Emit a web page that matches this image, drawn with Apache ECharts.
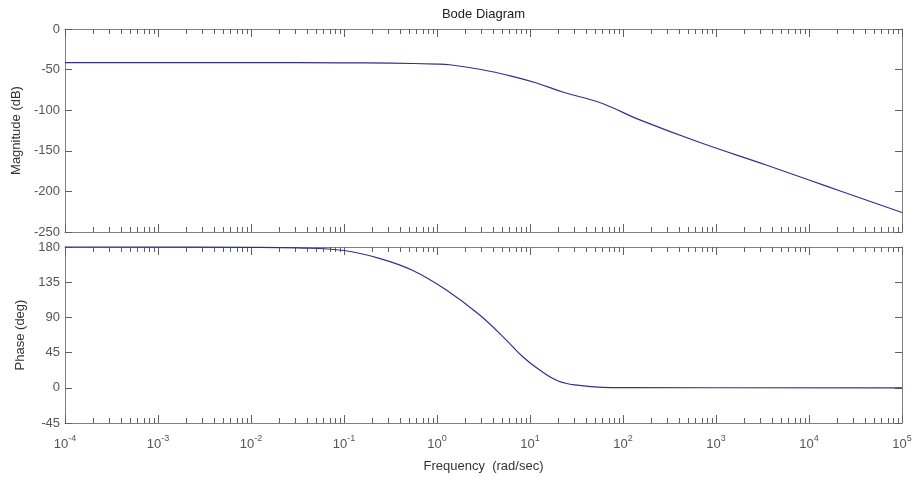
<!DOCTYPE html>
<html>
<head>
<meta charset="utf-8">
<script src="https://cdn.jsdelivr.net/npm/echarts@6/dist/echarts.min.js"></script>
<style>
html,body{margin:0;padding:0;background:#fff;}
#chart{width:918px;height:482px;}
</style>
</head>
<body>
<div id="chart"></div>
<script>
// ---- data ----
const magFreq  = [1e-4, 0.01, 0.1, 0.316, 1.0, 1.365, 2.88, 6.46, 11.75, 22.4, 51.3, 77.6, 138, 661, 3467, 10000, 22900, 100000];
const magDb    = [-41.5, -41.5, -41.6, -42.0, -43.2, -44.0, -49.6, -58.3, -66.5, -77.6, -89.0, -97.0, -110.0, -139.5, -167.5, -186.0, -200.5, -226.0];

const phaseFreq = [1e-4, 0.01, 0.0316, 0.1, 0.24, 0.55, 1.26, 2.88, 5.56, 8.3, 12.6, 20.4, 33.9, 60, 100, 100000];
const phaseDeg  = [180, 179.6, 178.8, 175.5, 165.5, 150, 125, 93, 61, 40, 23, 8.4, 3, 0.5, 0.2, 0];

const xTickExps   = ['-4', '-3', '-2', '-1', '0', '1', '2', '3', '4', '5'];
const magTicks    = [0, -50, -100, -150, -200, -250];
const phaseTicks  = [180, 135, 90, 45, 0, -45];
const minorMult   = [2, 3, 4, 5, 6, 7, 8, 9];

const titleText = 'Bode Diagram';
const magLabel = 'Magnitude (dB)';
const phaseLabel = 'Phase (deg)';
const freqLabel = 'Frequency  (rad/sec)';

// minor tick positions (structure of the log axis, not data)
const minorTicks = [];
for (let e = -4; e < 5; e++) {
  for (const m of minorMult) minorTicks.push([m * Math.pow(10, e), 0]);
}

const FONT = 'Liberation Sans';
const AXIS_COLOR = '#808080';
const TICK_COLOR = '#606060';
const LABEL_COLOR = '#555';
const LINE_COLOR = '#30308c';

function zip(a, b) { return a.map((v, i) => [v, b[i]]); }

function xAxisBase(grid, pos, showLabel) {
  return {
    type: 'log', logBase: 10, gridIndex: grid, position: pos,
    min: 1e-4, max: 1e5, splitNumber: 9,
    axisLine: { show: true, onZero: false, lineStyle: { color: AXIS_COLOR, width: 1 } },
    axisTick: { show: true, inside: true, length: 8, lineStyle: { color: TICK_COLOR } },
    splitLine: { show: false },
    axisLabel: {
      show: showLabel, margin: 11, fontFamily: FONT, color: LABEL_COLOR,
      formatter: function (v) {
        const e = Math.round(Math.log10(v));
        const idx = e + 4;
        return '{b|10}{s|' + xTickExps[idx] + '}';
      },
      rich: {
        b: { fontSize: 13, fontFamily: FONT, color: LABEL_COLOR },
        s: { fontSize: 9, fontFamily: FONT, color: LABEL_COLOR, padding: [0, 0, 11, 0] }
      }
    }
  };
}

function yAxisBase(grid, pos, showLabel, min, max, interval, ticks) {
  return {
    type: 'value', gridIndex: grid, position: pos,
    min: min, max: max, interval: interval,
    axisLine: { show: true, onZero: false, lineStyle: { color: AXIS_COLOR, width: 1 } },
    axisTick: { show: true, inside: true, length: 7, lineStyle: { color: TICK_COLOR } },
    splitLine: { show: false },
    axisLabel: {
      show: showLabel, margin: 5, fontFamily: FONT, fontSize: 13, color: LABEL_COLOR,
      formatter: function (v) { return ticks.indexOf(v) >= 0 ? String(v) : ''; }
    }
  };
}

function minorRender(params, api) {
  const cs = params.coordSys;
  let x = api.coord([api.value(0), api.value(1)])[0];
  x = Math.round(x) + 0.5;
  const st = { stroke: TICK_COLOR, lineWidth: 1 };
  return {
    type: 'group',
    children: [
      { type: 'line', shape: { x1: x, y1: cs.y, x2: x, y2: cs.y + 5 }, style: st },
      { type: 'line', shape: { x1: x, y1: cs.y + cs.height, x2: x, y2: cs.y + cs.height - 5 }, style: st }
    ]
  };
}

const chart = echarts.init(document.getElementById('chart'), null, { renderer: 'canvas' });

const magY = yAxisBase(0, 'left', true, -250, 0, 50, magTicks);
magY.name = magLabel; magY.nameLocation = 'middle'; magY.nameGap = 41;
magY.nameTextStyle = { fontFamily: FONT, fontSize: 13, color: '#333' };

const phY = yAxisBase(1, 'left', true, -45, 180, 45, phaseTicks);
phY.name = phaseLabel; phY.nameLocation = 'middle'; phY.nameGap = 36;
phY.nameTextStyle = { fontFamily: FONT, fontSize: 13, color: '#333' };

const freqX = xAxisBase(1, 'bottom', true);
freqX.name = freqLabel; freqX.nameLocation = 'middle'; freqX.nameGap = 37;
freqX.nameTextStyle = { fontFamily: FONT, fontSize: 13, color: '#333' };

const option = {
  backgroundColor: '#ffffff',
  animation: false,
  title: {
    text: titleText, left: 483.5, top: 8, textAlign: 'center', padding: 0,
    textStyle: { fontFamily: FONT, fontSize: 13, fontWeight: 'normal', color: '#222' }
  },
  grid: [
    { left: 65, top: 29, width: 837, height: 203, containLabel: false },
    { left: 65, top: 247, width: 837, height: 176, containLabel: false }
  ],
  xAxis: [
    xAxisBase(0, 'bottom', false),
    xAxisBase(0, 'top', false),
    freqX,
    xAxisBase(1, 'top', false)
  ],
  yAxis: [
    magY,
    yAxisBase(0, 'right', false, -250, 0, 50, magTicks),
    phY,
    yAxisBase(1, 'right', false, -45, 180, 45, phaseTicks)
  ],
  series: [
    {
      type: 'line', xAxisIndex: 0, yAxisIndex: 0, data: zip(magFreq, magDb),
      showSymbol: false, smooth: 0.4, clip: false,
      lineStyle: { color: LINE_COLOR, width: 1.2 }
    },
    {
      type: 'line', xAxisIndex: 2, yAxisIndex: 2, data: zip(phaseFreq, phaseDeg),
      showSymbol: false, smooth: 0.4, clip: false,
      lineStyle: { color: LINE_COLOR, width: 1.2 }
    },
    {
      type: 'custom', xAxisIndex: 0, yAxisIndex: 0, data: minorTicks,
      renderItem: minorRender, silent: true, clip: false
    },
    {
      type: 'custom', xAxisIndex: 2, yAxisIndex: 2, data: minorTicks,
      renderItem: minorRender, silent: true, clip: false
    }
  ]
};
chart.setOption(option);
</script>
</body>
</html>
